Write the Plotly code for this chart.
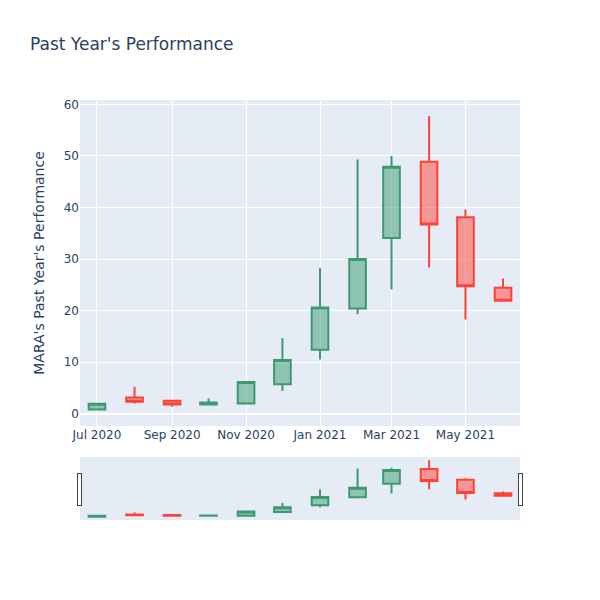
import plotly.graph_objects as go

dates = ["2020-07-01", "2020-08-01", "2020-09-01", "2020-10-01", "2020-11-01", "2020-12-01",
         "2021-01-01", "2021-02-01", "2021-03-01", "2021-04-01", "2021-05-01", "2021-06-01"]
opens = [0.8, 3.1, 2.5, 1.75, 1.95, 5.7, 12.4, 20.4, 34.1, 48.9, 38.1, 24.4]
highs = [2.0, 5.2, 2.7, 2.9, 6.3, 14.6, 28.2, 49.3, 50.0, 57.7, 39.6, 26.2]
lows = [0.75, 1.95, 1.3, 1.7, 1.9, 4.4, 10.5, 19.3, 24.1, 28.35, 18.25, 21.9]
closes = [1.9, 2.3, 1.75, 2.15, 6.15, 10.4, 20.6, 30.0, 47.9, 36.7, 24.7, 21.9]

fig = go.Figure(go.Candlestick(x=dates, open=opens, high=highs, low=lows, close=closes))
fig.update_layout(
    width=600, height=600,
    font=dict(family="DejaVu Sans"),
    title=dict(text="Past Year's Performance"),
    yaxis_title="MARA's Past Year's Performance",
    template="plotly",
)
fig.write_html("out.html", config={"displayModeBar": False},
               post_script="document.body.style.margin='0';")
